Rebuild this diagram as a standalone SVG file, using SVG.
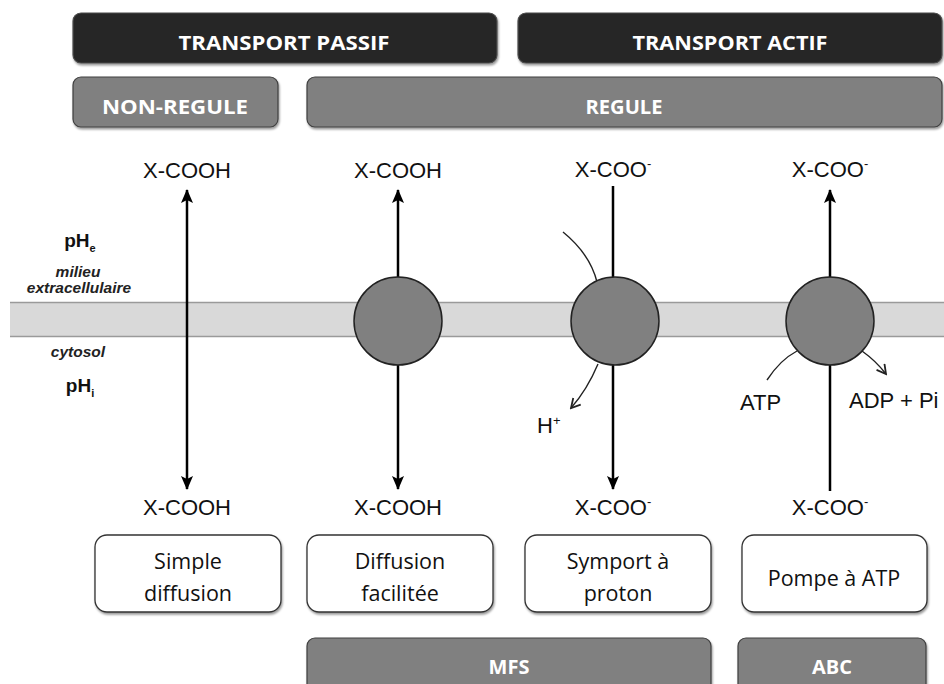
<svg xmlns="http://www.w3.org/2000/svg" width="944" height="684" viewBox="0 0 944 684">
<defs>
<style>
.bar{font-family:"Open Sans","Liberation Sans",sans-serif;font-weight:bold;fill:#fff;font-size:20px;text-anchor:middle}
.dark{fill:#262626;stroke:#4d4d4d;stroke-width:1.2}
.mid{fill:#808080;stroke:#404040;stroke-width:1.2}
.box{fill:#fff;stroke:#333;stroke-width:1.3}
.bt{font-family:"Open Sans","Liberation Sans",sans-serif;font-size:21.5px;fill:#111;text-anchor:middle}
.mol{font-family:"Liberation Sans",Arial,sans-serif;font-size:22px;fill:#111;text-anchor:middle}
.sm{font-family:"Liberation Sans",Arial,sans-serif;font-size:22px;fill:#111}
.ph{font-family:"Liberation Sans",Arial,sans-serif;font-weight:bold;font-size:19px;fill:#111;text-anchor:middle}
.it{font-family:"Liberation Sans",Arial,sans-serif;font-weight:bold;font-style:italic;font-size:15.5px;fill:#222;text-anchor:middle}
.main{stroke:#000;stroke-width:2.5;fill:none}
.thin{stroke:#222;stroke-width:1.4;fill:none}
.prot{fill:#808080;stroke:#222;stroke-width:1.5}
</style>
<filter id="sh" x="-5%" y="-10%" width="110%" height="130%">
<feDropShadow dx="1" dy="2" stdDeviation="1.3" flood-color="#000" flood-opacity="0.4"/>
</filter>
<marker id="ah" viewBox="0 0 14 12" refX="13" refY="6" markerWidth="14" markerHeight="12" markerUnits="userSpaceOnUse" orient="auto-start-reverse">
<path d="M0,0 L14,6 L0,12 L3,6 z" fill="#000"/>
</marker>
<marker id="oh" viewBox="0 0 12 12" refX="10" refY="6" markerWidth="12" markerHeight="12" markerUnits="userSpaceOnUse" orient="auto">
<path d="M1,1 L10,6 L1,11" fill="none" stroke="#222" stroke-width="1.8"/>
</marker>
</defs>
<rect width="944" height="684" fill="#fff"/>

<g id="header-passif"><rect class="dark" x="73" y="13" width="424" height="50" rx="8" filter="url(#sh)"/><text class="bar" x="284" y="50" textLength="211" lengthAdjust="spacingAndGlyphs">TRANSPORT PASSIF</text></g>
<g id="header-actif"><rect class="dark" x="518" y="13" width="424" height="50" rx="8" filter="url(#sh)"/><text class="bar" x="730" y="50" textLength="195" lengthAdjust="spacingAndGlyphs">TRANSPORT ACTIF</text></g>
<g id="non-regule"><rect class="mid" x="73" y="77" width="205" height="50" rx="8" filter="url(#sh)"/><text class="bar" x="175" y="114" textLength="146" lengthAdjust="spacingAndGlyphs">NON-REGULE</text></g>
<g id="regule"><rect class="mid" x="307" y="77" width="635" height="50" rx="8" filter="url(#sh)"/><text class="bar" x="624" y="114" textLength="77" lengthAdjust="spacingAndGlyphs">REGULE</text></g>

<g id="membrane">
<rect x="10" y="302" width="934" height="35" fill="#d9d9d9"/>
<line x1="10" y1="302.5" x2="944" y2="302.5" stroke="#9a9a9a" stroke-width="1.5"/>
<line x1="10" y1="336.5" x2="944" y2="336.5" stroke="#9a9a9a" stroke-width="1.5"/>
</g>

<g id="labels-left">
<text class="ph" x="80" y="247">pH<tspan font-size="11" dy="5">e</tspan></text>
<text class="it" x="78" y="277">milieu</text>
<text class="it" x="79" y="293">extracellulaire</text>
<text class="it" x="78" y="357">cytosol</text>
<text class="ph" x="80" y="392">pH<tspan font-size="11" dy="5">i</tspan></text>
</g>

<g id="connectors">
<line class="main" x1="187" y1="190" x2="187" y2="489" marker-start="url(#ah)" marker-end="url(#ah)"/>
<line class="main" x1="398" y1="277" x2="398" y2="190" marker-end="url(#ah)"/>
<line class="main" x1="398" y1="365" x2="398" y2="489" marker-end="url(#ah)"/>
<line class="main" x1="613" y1="186" x2="613" y2="489" marker-end="url(#ah)"/>
<line class="main" x1="830" y1="491" x2="830" y2="190" marker-end="url(#ah)"/>
<path class="thin" d="M563,232 Q590,254 597,282"/>
<path class="thin" d="M598,364 Q587,390 571,408" marker-end="url(#oh)"/>
<path class="thin" d="M767,380 Q780,360 797,351"/>
<path class="thin" d="M862,351 Q876,361 886,374" marker-end="url(#oh)"/>
</g>

<g id="transporter-mfs1"><circle class="prot" cx="398" cy="321" r="44"/></g>
<g id="transporter-mfs2"><circle class="prot" cx="615" cy="321" r="44"/></g>
<g id="transporter-abc"><circle class="prot" cx="830" cy="321" r="44"/></g>

<g id="molecules">
<text class="mol" x="187" y="178">X-COOH</text>
<text class="mol" x="398" y="178">X-COOH</text>
<text class="mol" x="613" y="177">X-COO<tspan font-size="13" dy="-9">-</tspan></text>
<text class="mol" x="830" y="177">X-COO<tspan font-size="13" dy="-9">-</tspan></text>
<text class="mol" x="187" y="515">X-COOH</text>
<text class="mol" x="398" y="515">X-COOH</text>
<text class="mol" x="613" y="515">X-COO<tspan font-size="13" dy="-9">-</tspan></text>
<text class="mol" x="830" y="515">X-COO<tspan font-size="13" dy="-9">-</tspan></text>
<text class="sm" x="537" y="433">H<tspan font-size="13" dy="-8">+</tspan></text>
<text class="sm" x="740" y="410">ATP</text>
<text class="sm" x="849" y="408">ADP + Pi</text>
</g>

<g id="box-simple"><rect class="box" x="95" y="535" width="186" height="77" rx="12" filter="url(#sh)"/><text class="bt" x="188" y="569">Simple</text><text class="bt" x="188" y="601">diffusion</text></g>
<g id="box-facilitee"><rect class="box" x="307" y="535" width="186" height="77" rx="12" filter="url(#sh)"/><text class="bt" x="400" y="569">Diffusion</text><text class="bt" x="400" y="601">facilitée</text></g>
<g id="box-symport"><rect class="box" x="525" y="535" width="186" height="77" rx="12" filter="url(#sh)"/><text class="bt" x="618" y="569">Symport à</text><text class="bt" x="618" y="601">proton</text></g>
<g id="box-pompe"><rect class="box" x="742" y="535" width="185" height="77" rx="12" filter="url(#sh)"/><text class="bt" x="834" y="586">Pompe à ATP</text></g>

<g id="mfs"><rect class="mid" x="307" y="638" width="404" height="60" rx="8" filter="url(#sh)"/><text class="bar" x="509" y="674">MFS</text></g>
<g id="abc"><rect class="mid" x="738" y="638" width="188" height="60" rx="8" filter="url(#sh)"/><text class="bar" x="832" y="674">ABC</text></g>
</svg>
